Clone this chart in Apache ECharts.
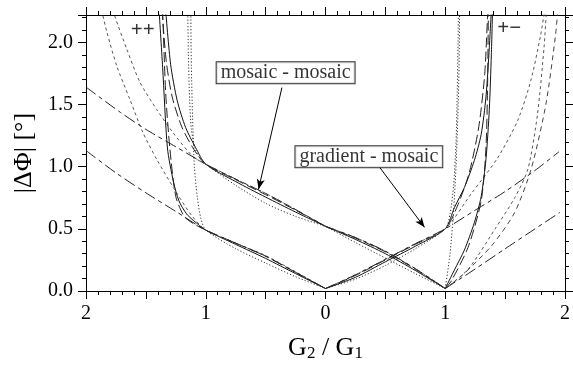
<!DOCTYPE html>
<html>
<head>
<meta charset="utf-8">
<script src="https://cdn.jsdelivr.net/npm/echarts@6/dist/echarts.min.js"></script>
<style>
  html, body { margin: 0; padding: 0; background: #fff; }
  #chart { width: 573px; height: 367px; }
</style>
</head>
<body>
<div id="chart"></div>
<script>
// Phase difference |ΔΦ| against the ratio G2/G1; left half is the "++" case,
// right half the "+−" case (x < 0 plotted as |x|).

const xTicks = [-2, -1, 0, 1, 2];
const yTicks = [0.0, 0.5, 1.0, 1.5, 2.0];

// ---- "++" side, upper family (meets at G2/G1 = 1, |ΔΦ| ≈ 1.02) ----
const solidUpLeft    = [[-1.335,2.26],[-1.293,1.82],[-1.238,1.53],[-1.168,1.315],[-1.085,1.154],[-1,1.02],[-0.75,0.88],[-0.5,0.755],[-0.25,0.635],[0,0.52]];
const longDashUpLeft = [[-1.365,2.26],[-1.33,1.85],[-1.28,1.56],[-1.2,1.32],[-1.1,1.14],[-1,1.02],[-0.75,0.895],[-0.5,0.775],[-0.25,0.65],[0,0.52]];
const dottedUpLeft   = [[-1.15,2.26],[-1.145,1.9],[-1.135,1.55],[-1.12,1.3],[-1.09,1.15],[-1.05,1.07],[-1,1.02],[-0.75,0.85],[-0.5,0.705],[-0.25,0.6],[0,0.52]];
const shortDashUpLeft= [[-1.77,2.26],[-1.759,2.21],[-1.659,1.944],[-1.55,1.68],[-1.41,1.46],[-1.276,1.277],[-1.11,1.084],[-1,1.02],[-0.75,0.9],[-0.5,0.785],[-0.25,0.655],[0,0.52]];
const dashDotUpLeft  = [[-2,1.64],[-1.71,1.435],[-1.5,1.3],[-1.25,1.16],[-1,1.02],[-0.75,0.9],[-0.5,0.785],[-0.25,0.655],[0,0.52]];

// ---- "++" side, lower family (meets at G2/G1 = 1, |ΔΦ| ≈ 0.49) ----
const solidLowLeft    = [[-1.39,2.26],[-1.36,1.8],[-1.32,1.15],[-1.27,0.88],[-1.224,0.725],[-1.16,0.62],[-1.1,0.565],[-1,0.49],[-0.75,0.375],[-0.5,0.262],[-0.25,0.14],[0,0.02]];
const longDashLowLeft = [[-1.36,2.26],[-1.335,1.6],[-1.3,1.15],[-1.25,0.76],[-1.18,0.6],[-1.1,0.54],[-1,0.49],[-0.75,0.385],[-0.5,0.28],[-0.25,0.15],[0,0.02]];
const dottedLowLeft   = [[-1.125,2.26],[-1.12,1.8],[-1.11,1.4],[-1.095,1.0],[-1.07,0.75],[-1.04,0.58],[-1,0.49],[-0.75,0.34],[-0.5,0.225],[-0.25,0.115],[0,0.02]];
const shortDashLowLeft= [[-1.87,2.26],[-1.825,2.08],[-1.742,1.807],[-1.634,1.542],[-1.526,1.277],[-1.41,1.06],[-1.25,0.8],[-1.12,0.61],[-1,0.49],[-0.75,0.385],[-0.5,0.285],[-0.25,0.155],[0,0.02]];
const dashDotLowLeft  = [[-2,1.13],[-1.75,0.95],[-1.5,0.79],[-1.25,0.64],[-1,0.49],[-0.75,0.385],[-0.5,0.28],[-0.25,0.15],[0,0.02]];

// ---- "+−" side, branch rising from 0 through (1, 0.5) ----
const solidRiseRight    = [[0,0.02],[0.25,0.11],[0.5,0.235],[0.75,0.36],[1,0.5],[1.077,0.672],[1.16,0.833],[1.243,1.05],[1.3,1.26],[1.34,1.56],[1.368,1.96],[1.385,2.26]];
const longDashRiseRight = [[0,0.02],[0.25,0.125],[0.5,0.25],[0.75,0.375],[1,0.5],[1.1,0.68],[1.2,0.95],[1.28,1.32],[1.33,1.75],[1.355,2.26]];
const dottedRiseRight   = [[0,0.02],[0.25,0.095],[0.5,0.205],[0.75,0.34],[1,0.5],[1.04,0.62],[1.07,0.85],[1.09,1.2],[1.1,1.6],[1.107,2.0],[1.11,2.26]];
const shortDashRiseRight= [[0,0.02],[0.25,0.13],[0.5,0.255],[0.75,0.38],[1,0.5],[1.215,0.78],[1.437,1.07],[1.604,1.37],[1.714,1.69],[1.797,2.06],[1.83,2.26]];
const dashDotRiseRight  = [[0,0.02],[0.25,0.13],[0.5,0.255],[0.75,0.38],[1,0.5],[1.25,0.65],[1.5,0.8],[1.75,0.97],[1.95,1.12]];

// ---- "+−" side, branch falling from (0, 0.52) to the cusp at 1 ----
const solidFallRight    = [[0,0.52],[0.25,0.415],[0.5,0.3],[0.75,0.165],[1,0.02]];
const longDashFallRight = [[0,0.52],[0.25,0.425],[0.5,0.315],[0.75,0.175],[1,0.02]];
const dottedFallRight   = [[0,0.52],[0.25,0.39],[0.5,0.265],[0.75,0.14],[1,0.02]];
const shortDashFallRight= [[0,0.52],[0.25,0.43],[0.5,0.32],[0.75,0.18],[1,0.02]];
const dashDotFallRight  = [[0,0.52],[0.25,0.43],[0.5,0.32],[0.75,0.18],[1,0.02]];

// ---- "+−" side, branch climbing again past the cusp ----
const solidClimbRight    = [[1,0.02],[1.077,0.17],[1.16,0.33],[1.243,0.55],[1.3,0.76],[1.34,1.06],[1.368,1.46],[1.385,1.9],[1.395,2.26]];
const longDashClimbRight = [[1,0.02],[1.05,0.08],[1.19,0.35],[1.3,0.725],[1.34,1.15],[1.354,1.69],[1.36,2.26]];
const dottedClimbRight   = [[1,0.02],[1.04,0.3],[1.07,0.65],[1.09,1.0],[1.105,1.4],[1.115,1.8],[1.12,2.26]];
const shortDashClimbRight= [[1,0.02],[1.193,0.177],[1.415,0.498],[1.58,0.75],[1.69,0.98],[1.77,1.42],[1.825,1.96],[1.845,2.26]];
const mediumDashClimbRight=[[1,0.02],[1.138,0.123],[1.387,0.364],[1.58,0.632],[1.72,0.99],[1.84,1.5],[1.92,2.05],[1.94,2.26]];
const dashDotClimbRight  = [[1,0.02],[1.25,0.177],[1.5,0.34],[1.75,0.5],[1.957,0.632]];

// Annotation text, anchor positions and arrow ends (data units)
const noteLabels = ['mosaic - mosaic', 'gradient - mosaic'];
const notePos    = [[-0.333, 1.755], [0.362, 1.08]];
const arrowFrom  = [[-0.364, 1.636], [0.453, 0.994]];
const arrowTo    = [[-0.559, 0.819], [0.827, 0.512]];
const signLabels = ['++', '+\u2212'];
const signPos    = [[-1.526, 2.096], [1.534, 2.11]];

const FONT = '"Liberation Serif", "DejaVu Serif", serif';

const styles = {
  solid:     { type: 'solid',        color: '#111', width: 1 },
  longDash:  { type: [10, 4],        color: '#222', width: 1 },
  dotted:    { type: [1.2, 2],       color: '#333', width: 1 },
  shortDash: { type: [3, 3],         color: '#555', width: 1 },
  medDash:   { type: [5, 4],         color: '#444', width: 1 },
  dashDot:   { type: [12, 4, 4, 4],  color: '#222', width: 1 }
};

const curves = [
  [solidUpLeft, 'solid'], [longDashUpLeft, 'longDash'], [dottedUpLeft, 'dotted'],
  [shortDashUpLeft, 'shortDash'], [dashDotUpLeft, 'dashDot'],
  [solidLowLeft, 'solid'], [longDashLowLeft, 'longDash'], [dottedLowLeft, 'dotted'],
  [shortDashLowLeft, 'shortDash'], [dashDotLowLeft, 'dashDot'],
  [solidRiseRight, 'solid'], [longDashRiseRight, 'longDash'], [dottedRiseRight, 'dotted'],
  [shortDashRiseRight, 'shortDash'], [dashDotRiseRight, 'dashDot'],
  [solidFallRight, 'solid'], [longDashFallRight, 'longDash'], [dottedFallRight, 'dotted'],
  [shortDashFallRight, 'shortDash'], [dashDotFallRight, 'dashDot'],
  [solidClimbRight, 'solid'], [longDashClimbRight, 'longDash'], [dottedClimbRight, 'dotted'],
  [shortDashClimbRight, 'shortDash'], [mediumDashClimbRight, 'medDash'], [dashDotClimbRight, 'dashDot']
];

const series = curves.map(([data, st]) => ({
  type: 'line',
  data: data,
  showSymbol: false,
  smooth: 0.25,
  clip: true,
  silent: true,
  lineStyle: styles[st]
}));

// Boxed notes with arrows
series.push({
  type: 'scatter',
  data: notePos.map((p, i) => ({ value: p, name: noteLabels[i] })),
  symbolSize: 0,
  silent: true,
  label: {
    show: true,
    position: 'inside',
    formatter: p => p.name,
    fontFamily: FONT,
    fontSize: 20,
    color: '#000',
    backgroundColor: '#fff',
    borderColor: '#000',
    borderWidth: 1,
    padding: [1, 4, 0, 4]
  },
  markLine: {
    silent: true,
    symbol: ['none', 'arrow'],
    symbolSize: [6, 10],
    label: { show: false },
    lineStyle: { color: '#000', width: 1, type: 'solid' },
    data: arrowFrom.map((a, i) => [{ coord: a }, { coord: arrowTo[i] }])
  },
  z: 5
});

series.push({
  type: 'scatter',
  data: signPos.map((p, i) => ({ value: p, name: signLabels[i] })),
  symbolSize: 0,
  silent: true,
  label: {
    show: true,
    position: 'inside',
    formatter: p => p.name,
    fontFamily: FONT,
    fontWeight: 'bold',
    fontSize: 21,
    color: '#000'
  },
  z: 5
});

const baseAxisLine = { show: true, onZero: false, lineStyle: { color: '#000', width: 1 } };
const majorTick = { show: true, inside: false, length: 8, lineStyle: { color: '#000', width: 1 } };
const minorTick = { show: true, splitNumber: 5, length: 4, lineStyle: { color: '#000', width: 1 } };

const chart = echarts.init(document.getElementById('chart'), null, { renderer: 'canvas' });
chart.setOption({
  backgroundColor: '#fff',
  animation: false,
  grid: { left: 86, right: 6, top: 15, bottom: 75 },
  xAxis: [
    {
      type: 'value', min: -2, max: 2, interval: 0.5, position: 'bottom',
      axisLine: baseAxisLine, axisTick: majorTick, minorTick: minorTick,
      splitLine: { show: false },
      axisLabel: {
        margin: 13, fontFamily: FONT, fontSize: 20, color: '#000',
        formatter: v => (xTicks.indexOf(v) >= 0 ? String(Math.abs(v)) : '')
      },
      name: 'G{s|2} / G{s|1}',
      nameLocation: 'middle',
      nameGap: 44,
      nameTextStyle: {
        fontFamily: FONT, fontSize: 26, color: '#000',
        rich: { s: { fontFamily: FONT, fontSize: 17, color: '#000', padding: [10, 0, 0, 0] } }
      }
    },
    {
      type: 'value', min: -2, max: 2, interval: 0.5, position: 'top',
      axisLine: baseAxisLine, axisTick: majorTick, minorTick: minorTick,
      splitLine: { show: false }, axisLabel: { show: false }
    }
  ],
  yAxis: [
    {
      type: 'value', min: 0, max: 2.22, interval: 0.5, position: 'left',
      axisLine: baseAxisLine, axisTick: majorTick, minorTick: minorTick,
      splitLine: { show: false },
      axisLabel: {
        margin: 13, fontFamily: FONT, fontSize: 20, color: '#000', showMaxLabel: false,
        formatter: v => (yTicks.indexOf(v) >= 0 ? v.toFixed(1) : '')
      },
      name: '|\u0394\u03A6| [\u00B0]',
      nameLocation: 'middle',
      nameRotate: 90,
      nameGap: 47,
      nameTextStyle: { fontFamily: FONT, fontSize: 26, color: '#000' }
    },
    {
      type: 'value', min: 0, max: 2.22, interval: 0.5, position: 'right',
      axisLine: baseAxisLine, axisTick: majorTick, minorTick: minorTick,
      splitLine: { show: false }, axisLabel: { show: false }
    }
  ],
  series: series
});
</script>
</body>
</html>
